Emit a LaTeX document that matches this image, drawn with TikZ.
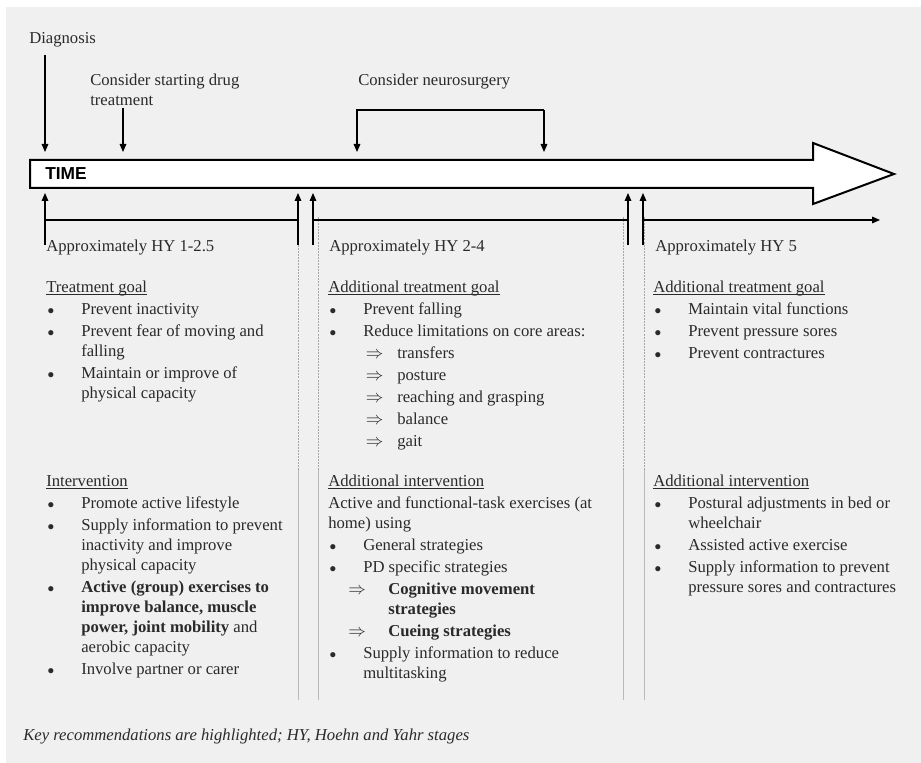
\documentclass[tikz,border=0pt]{standalone}
\usepackage{fontspec}
\setmainfont{Liberation Serif}
\setsansfont{Liberation Sans}
\usetikzlibrary{arrows.meta,positioning}

\definecolor{panel}{HTML}{F0F0F0}
\definecolor{ink}{HTML}{2A2A2A}
\definecolor{rulegray}{HTML}{A8A8A8}

\tikzset{
  txt/.style={inner sep=0pt,anchor=base west,text=ink,font=\fontsize{12.5}{15}\selectfont},
  link/.style={line width=0.8pt},
  divider/.style={rulegray,line width=0.6pt},
}
\newlength{\hdw}
\newcommand{\ul}[1]{\settowidth{\hdw}{#1}\rlap{\rule[-1.8pt]{\hdw}{0.45pt}}#1}
\newenvironment{stage}{\begin{tabular}[t]{@{}p{26.25pt}@{}l@{}}}{\end{tabular}}
\newcommand{\hd}[1]{\multicolumn{2}{@{}l@{}}{\ul{#1}}}
\newcommand{\whole}[1]{\multicolumn{2}{@{}l@{}}{#1}}
\newcommand{\bl}{\hspace{1pt}{\fontsize{10}{12}\selectfont$\bullet$}}
\newcommand{\dbl}{\scalebox{1.1}{$\Rightarrow$}}
\newcommand{\sub}[1]{\makebox[25.5pt][l]{\hspace{2pt}\dbl}#1}
\newcommand{\subb}[1]{\whole{\hspace{15pt}\makebox[30pt][l]{\dbl}\textbf{#1}}}

\begin{document}
\begin{tikzpicture}[x=0.75pt,y=-0.75pt,>={Triangle[length=6pt,width=5pt]}]
\useasboundingbox (0,0) rectangle (921,763);
\fill[white] (0,0) rectangle (921,763);
\fill[panel] (6,7) rectangle (921,763);

% column dividers
\foreach \x in {298,318,623,644} {
  \draw[divider,dash pattern=on 1.5pt off 0.8pt] (\x,217) -- (\x,470);
  \draw[divider,rulegray!80] (\x,470) -- (\x,700);
}

% time arrow
\draw[line width=1.5pt,fill=white] (30,160) -- (813,160) -- (813,143) -- (894,174)
  -- (813,204) -- (813,188) -- (30,188) -- cycle;
\node[txt,text=black,font=\sffamily\bfseries\fontsize{13}{15}\selectfont] (time) at (45,180) {TIME};

% events above the arrow
\node[txt] (diag) at (29,44) {Diagnosis};
\node[txt] (drug) at (90,86) {\begin{tabular}[t]{@{}l@{}}Consider starting drug\\treatment\end{tabular}};
\node[txt] (neuro) at (358,86) {Consider neurosurgery};

\coordinate (tipa) at (0,152);
\coordinate (xd) at (45,0);
\coordinate (xs) at (123,108);
\coordinate (xn1) at (357,110);
\coordinate (xn2) at (544,110);
\draw[link,->,shorten <=5pt] (diag.south -| xd) -- (xd |- tipa);
\draw[link,->] (xs) -- (xs |- tipa);
\draw[link,->] (xn2) -- (xn1) -- (xn1 |- tipa);
\draw[link,->] (xn2) -- (xn2 |- tipa);

% stages below the arrow
\foreach \x in {45,298,313,628,643}
  \draw[link,->] (\x,245) -- (\x,193);
\draw[link] (45,220) -- (298,220);
\draw[link] (313,220) -- (628,220);
\draw[link,->] (643,220) -- (880,220);

\node[txt] (hy1) at (46,251) {Approximately HY 1-2.5};
\node[txt] (hy2) at (329,251) {Approximately HY 2-4};
\node[txt] (hy3) at (655,251) {Approximately HY 5};

% treatment goals
\node[txt] (goal1) at (46,292) {\begin{stage}
\hd{Treatment goal}\\[1.5pt]
\bl & Prevent inactivity\\[1.5pt]
\bl & Prevent fear of moving and\\
    & falling\\[1.5pt]
\bl & Maintain or improve of\\
    & physical capacity
\end{stage}};
\node[txt] (goal2) at (328,292) {\begin{stage}
\hd{Additional treatment goal}\\[1.5pt]
\bl & Prevent falling\\[1.5pt]
\bl & Reduce limitations on core areas:\\[1.5pt]
    & \sub{transfers}\\[1.5pt]
    & \sub{posture}\\[1.5pt]
    & \sub{reaching and grasping}\\[1.5pt]
    & \sub{balance}\\[1.5pt]
    & \sub{gait}
\end{stage}};
\node[txt] (goal3) at (653,292) {\begin{stage}
\hd{Additional treatment goal}\\[1.5pt]
\bl & Maintain vital functions\\[1.5pt]
\bl & Prevent pressure sores\\[1.5pt]
\bl & Prevent contractures
\end{stage}};

% interventions
\node[txt] (int1) at (46,486) {\begin{stage}
\hd{Intervention}\\[1.5pt]
\bl & Promote active lifestyle\\[1.5pt]
\bl & Supply information to prevent\\
    & inactivity and improve\\
    & physical capacity\\[1.5pt]
\bl & \textbf{Active (group) exercises to}\\
    & \textbf{improve balance, muscle}\\
    & \textbf{power, joint mobility} and\\
    & aerobic capacity\\[1.5pt]
\bl & Involve partner or carer
\end{stage}};
\node[txt] (int2) at (328,486) {\begin{stage}
\hd{Additional intervention}\\[1.5pt]
\whole{Active and functional-task exercises (at}\\
\whole{home) using}\\[1.5pt]
\bl & General strategies\\[1.5pt]
\bl & PD specific strategies\\[1.5pt]
\subb{Cognitive movement}\\
\whole{\hspace{45pt}\textbf{strategies}}\\[1.5pt]
\subb{Cueing strategies}\\[1.5pt]
\bl & Supply information to reduce\\
    & multitasking
\end{stage}};
\node[txt] (int3) at (653,486) {\begin{stage}
\hd{Additional intervention}\\[1.5pt]
\bl & Postural adjustments in bed or\\
    & wheelchair\\[1.5pt]
\bl & Assisted active exercise\\[1.5pt]
\bl & Supply information to prevent\\
    & pressure sores and contractures
\end{stage}};

\node[txt] (note) at (23,740) {\itshape Key recommendations are highlighted; HY, Hoehn and Yahr stages};
\end{tikzpicture}
\end{document}
